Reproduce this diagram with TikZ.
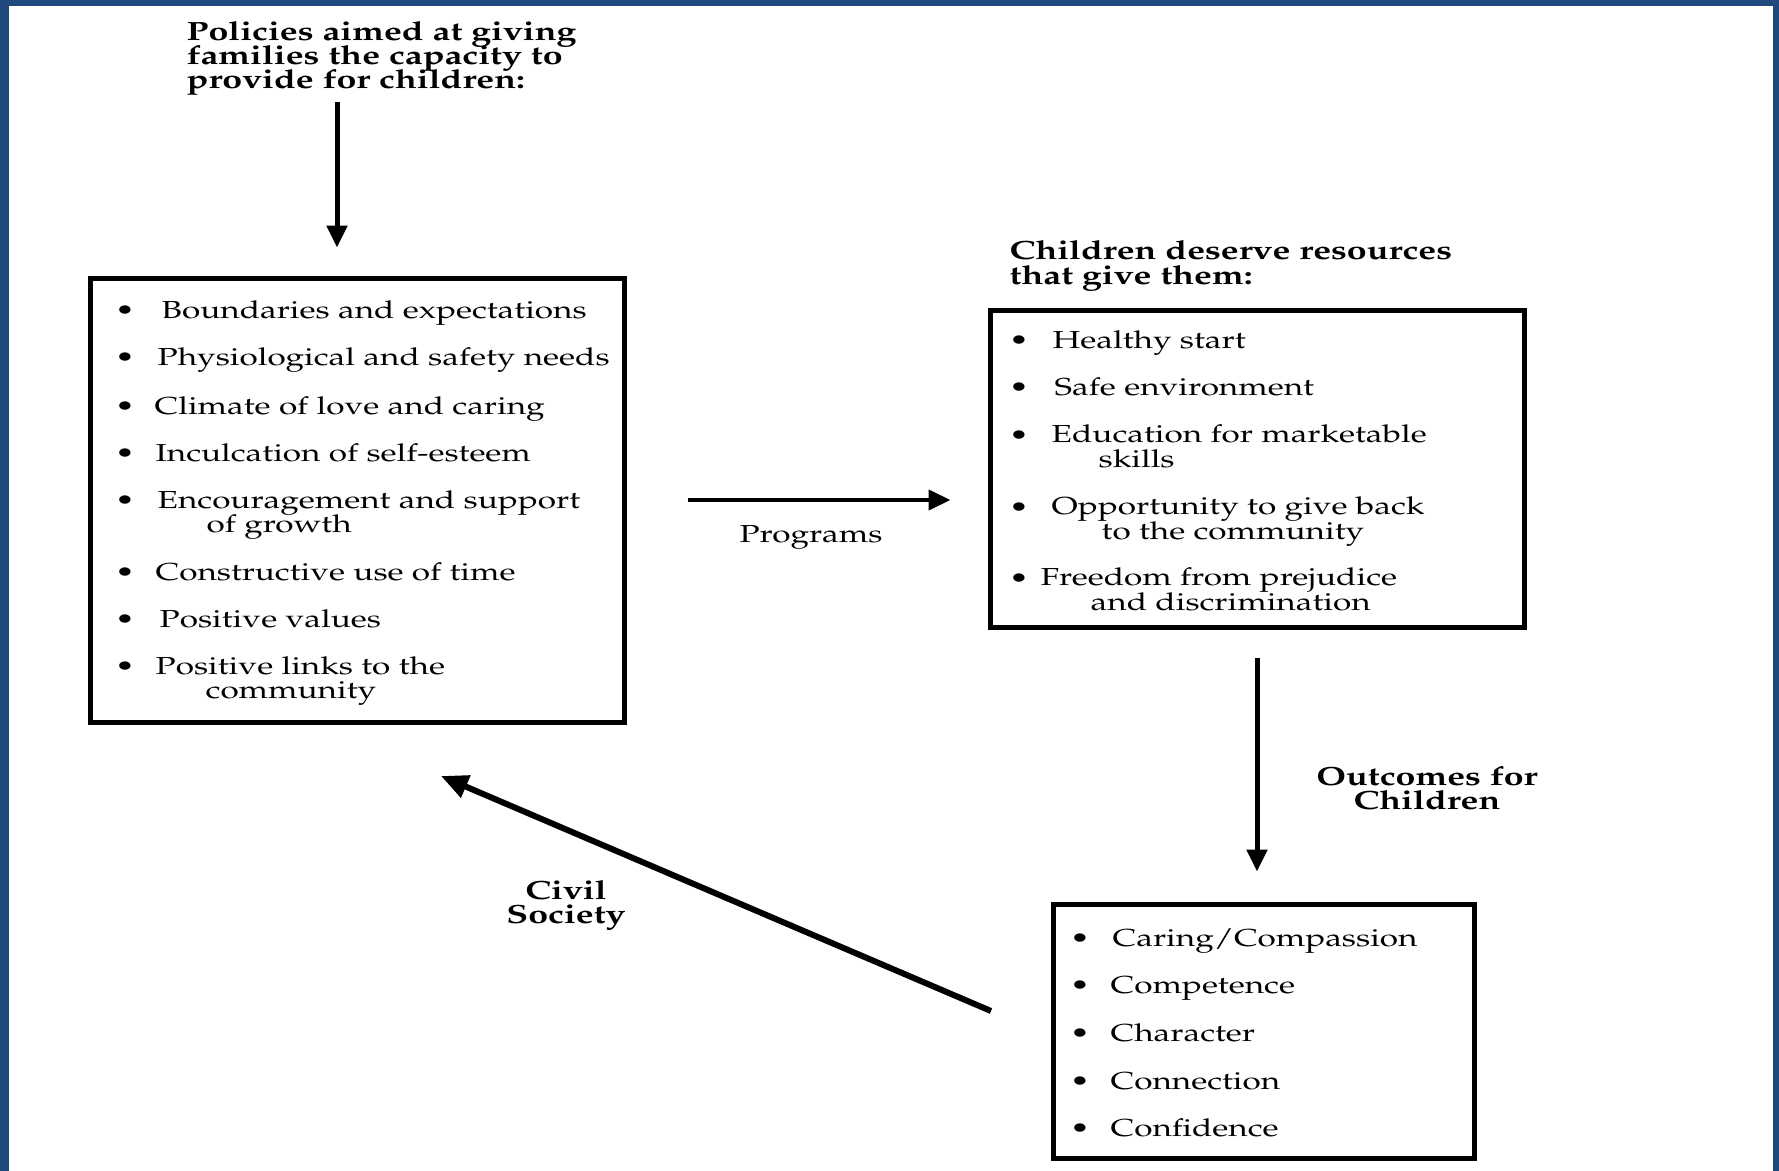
\documentclass[tikz,border=0pt]{standalone}
\usepackage[T1]{fontenc}
\usepackage{mathpazo}
\usepackage{graphicx}
\usetikzlibrary{arrows.meta}
\definecolor{frameblue}{HTML}{1F497D}
\lineskiplimit=-10pt
\newcommand{\stx}[1]{\scalebox{1.355}[1]{#1}}
\tikzset{box/.style={draw,line width=.5mm,inner sep=0pt},itm/.style={anchor=base west,inner sep=0pt,align=left,font=\fontsize{7}{6.83}\selectfont},hd/.style={anchor=base west,inner sep=0pt,align=left,font=\fontsize{7.5}{6.9}\selectfont\bfseries},lbl/.style={anchor=base,inner sep=0pt,align=center,font=\fontsize{7.5}{6.83}\selectfont\bfseries},bul/.style={anchor=base,inner sep=0pt,font=\fontsize{7}{6.83}\selectfont},arr/.style={-{Triangle[length=2.2mm,width=2mm]},line width=.5mm}}

\begin{document}
\begin{tikzpicture}[x=0.1mm,y=-0.1mm]
  \useasboundingbox (0,0) rectangle (1779,1171);
  \fill[frameblue] (0,0) rectangle (1779,1171);
  \fill[white] (9,6) rectangle (1773,1171);

  \node[hd] (pol) at (186,89) {\stx{Policies aimed at giving}\\\stx{families the capacity to}\\\stx{provide for children:}};
  \node[hd] (need) at (1009,284) {\stx{Children deserve resources}\\\stx{that give them:}};

  \node[box,minimum width=53.4mm,minimum height=44.4mm] (fam) at (357,500) {};
  \node[box,minimum width=53.4mm,minimum height=31.7mm] (res) at (1257,468.5) {};
  \node[box,minimum width=42.1mm,minimum height=25.4mm] (out) at (1263.5,1031) {};

  \node[itm] (f1) at (161,319) {\stx{Boundaries and expectations}};
  \node[itm] (f2) at (157,366) {\stx{Physiological and safety needs}};
  \node[itm] (f3) at (154,414) {\stx{Climate of love and caring}};
  \node[itm] (f4) at (155,461) {\stx{Inculcation of self-esteem}};
  \node[itm] (f5) at (157,532) {\stx{Encouragement and support}\\\hspace*{4.9mm}\stx{of growth}};
  \node[itm] (f6) at (155,580) {\stx{Constructive use of time}};
  \node[itm] (f7) at (159,627) {\stx{Positive values}};
  \node[itm] (f8) at (155,698) {\stx{Positive links to the}\\\hspace*{5mm}\stx{community}};
  \foreach \y [count=\i] in {319,366,414,461,508,580,627,674}
    \node[bul] (fb\i) at (125,\y) {\stx{\textbullet}};

  \node[itm] (r1) at (1052,348) {\stx{Healthy start}};
  \node[itm] (r2) at (1054,395) {\stx{Safe environment}};
  \node[itm] (r3) at (1051,467) {\stx{Education for marketable}\\\hspace*{4.7mm}\stx{skills}};
  \node[itm] (r4) at (1051,539) {\stx{Opportunity to give back}\\\hspace*{5mm}\stx{to the community}};
  \node[itm] (r5) at (1040,610) {\stx{Freedom from prejudice}\\\hspace*{5mm}\stx{and discrimination}};
  \foreach \y [count=\i] in {348,395,443,515,586}
    \node[bul] (rb\i) at (1019,\y) {\stx{\textbullet}};

  \node[itm] (o1) at (1112,946) {\stx{Caring/Compassion}};
  \node[itm] (o2) at (1110,993) {\stx{Competence}};
  \node[itm] (o3) at (1110,1041) {\stx{Character}};
  \node[itm] (o4) at (1110,1089) {\stx{Connection}};
  \node[itm] (o5) at (1110,1136) {\stx{Confidence}};
  \foreach \y [count=\i] in {946,993,1041,1089,1136}
    \node[bul] (ob\i) at (1080,\y) {\stx{\textbullet}};

  \node[itm,anchor=base] (prog) at (811,542) {\stx{Programs}};
  \node[lbl] (oc) at (1427,809) {\stx{Outcomes for}\\\stx{Children}};
  \node[lbl] (cv) at (566,923) {\stx{Civil}\\\stx{Society}};

  \coordinate (pa) at (337,102);
  \coordinate (cs) at (991,1011);
  \coordinate (ce) at (441,776);
  \draw[arr,shorten >=2.8mm] (pa) -- (pa |- fam.north);
  \draw[arr,line width=.4mm,shorten <=6.1mm,shorten >=3.7mm] (fam.east) -- (fam.east -| res.west);
  \draw[arr,shorten <=2.8mm,shorten >=3mm] (res.south) -- (res.south |- out.north);
  \draw[arr,line width=.6mm,-{Triangle[length=2.7mm,width=2.3mm]}] (cs) -- (ce);
\end{tikzpicture}
\end{document}
